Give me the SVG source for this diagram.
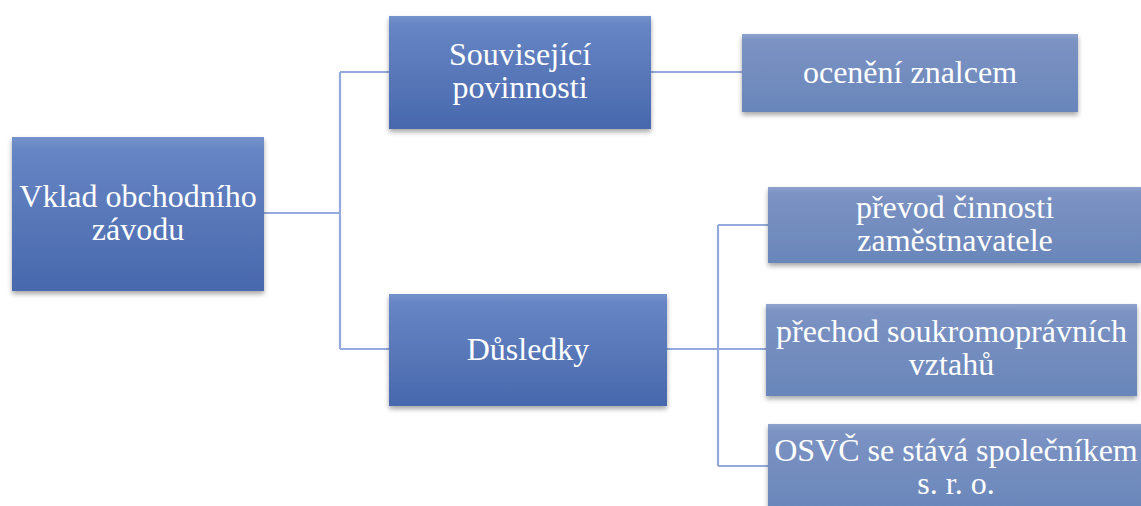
<svg xmlns="http://www.w3.org/2000/svg" width="1141" height="506" viewBox="0 0 1141 506">
<style>
.t{font-family:"Liberation Serif","Times New Roman",serif;font-size:32px;fill:#ffffff;text-anchor:middle}
.n1{fill:url(#g1);filter:url(#sh)}
.n2{fill:url(#g2);filter:url(#sh)}
.c{stroke:#94a9dc;stroke-width:2.2;fill:none}
</style>
<defs>
<linearGradient id="g1" x1="0" y1="0" x2="0" y2="1">
<stop offset="0" stop-color="#7593cb"/>
<stop offset="0.08" stop-color="#6685c4"/>
<stop offset="1" stop-color="#4868ad"/>
</linearGradient>
<linearGradient id="g2" x1="0" y1="0" x2="0" y2="1">
<stop offset="0" stop-color="#8ea2cc"/>
<stop offset="0.08" stop-color="#7c93c3"/>
<stop offset="1" stop-color="#6986ba"/>
</linearGradient>
<filter id="sh" x="-10%" y="-10%" width="120%" height="130%">
<feDropShadow dx="0" dy="3" stdDeviation="2.5" flood-color="#000" flood-opacity="0.35"/>
</filter>
</defs>
<g id="connectors">
<path class="c" d="M264 213 H340 M340 72 V349 M340 72 H389 M340 349 H389"/>
<path class="c" d="M651 72 H742"/>
<path class="c" d="M667 349 H718 M718 225 V466 M718 225 H768 M718 349 H766 M718 466 H768"/>
</g>
<g id="n-root">
<rect class="n1" x="12" y="137" width="252" height="154"/>
<text class="t" x="138" y="207">Vklad obchodního</text>
<text class="t" x="138" y="240">závodu</text>
</g>
<g id="n-souvisejici">
<rect class="n1" x="389" y="16" width="262" height="113"/>
<text class="t" x="520" y="65">Související</text>
<text class="t" x="520" y="98">povinnosti</text>
</g>
<g id="n-dusledky">
<rect class="n1" x="389" y="294" width="278" height="112"/>
<text class="t" x="528" y="360">Důsledky</text>
</g>
<g id="n-oceneni">
<rect class="n2" x="742" y="34" width="336" height="78"/>
<text class="t" x="910" y="83">ocenění znalcem</text>
</g>
<g id="n-prevod">
<rect class="n2" x="768" y="187" width="374" height="76"/>
<text class="t" x="955" y="218">převod činnosti</text>
<text class="t" x="955" y="251">zaměstnavatele</text>
</g>
<g id="n-prechod">
<rect class="n2" x="766" y="304" width="371" height="92"/>
<text class="t" x="951.5" y="342">přechod soukromoprávních</text>
<text class="t" x="951.5" y="375">vztahů</text>
</g>
<g id="n-osvc">
<rect class="n2" x="768" y="424" width="374" height="90"/>
<text class="t" x="956" y="461">OSVČ se stává společníkem</text>
<text class="t" x="956" y="494">s. r. o.</text>
</g>
</svg>
